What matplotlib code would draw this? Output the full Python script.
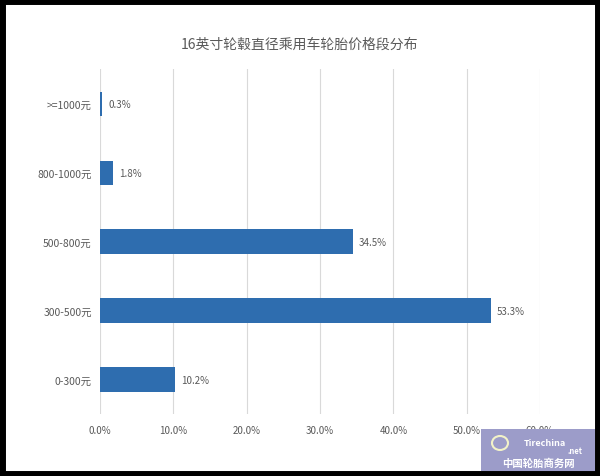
import matplotlib
matplotlib.use("Agg")
import matplotlib.pyplot as plt
from matplotlib.patches import Rectangle, Ellipse

plt.rcParams['font.family'] = ['Noto Sans CJK SC', 'DejaVu Sans']

title = "16英寸轮毂直径乘用车轮胎价格段分布"
categories = ["0-300元", "300-500元", "500-800元", "800-1000元", ">=1000元"]
values = [10.2, 53.3, 34.5, 1.8, 0.3]
xticks = [0, 10, 20, 30, 40, 50, 60]
xticklabels = ["0.0%", "10.0%", "20.0%", "30.0%", "40.0%", "50.0%", "60.0%"]

fig = plt.figure(figsize=(6, 4.77), dpi=100)
ax = fig.add_axes([0.1667, 0.130, 0.7333, 0.723])

gray = "#595959"
ax.barh(range(len(categories)), values, height=0.35, color="#2E6DAF", zorder=3)
for i, v in enumerate(values):
    ax.text(v + 0.8, i, f"{v:.1f}%", va="center", ha="left", fontsize=7, color=gray)

ax.set_xlim(0, 60)
ax.set_ylim(-0.5, len(categories) - 0.5)
ax.set_xticks(xticks)
ax.set_xticklabels(xticklabels, fontsize=7, color=gray)
ax.set_yticks(range(len(categories)))
ax.set_yticklabels(categories, fontsize=7.5, color=gray)
ax.tick_params(axis="both", length=0, pad=8)
ax.tick_params(axis="y", pad=6)
ax.grid(axis="x", color="#D9D9D9", linewidth=0.8, zorder=0)
for s in ax.spines.values():
    s.set_visible(False)

fig.text(0.5, 1 - 45 / 477, title, ha="center", va="center", fontsize=10, color=gray)

# black frame
fig.patches.append(Rectangle((0.004, 0.005), 0.992, 0.99, transform=fig.transFigure,
                             fill=False, edgecolor="black", linewidth=5, zorder=10))

# watermark
fig.patches.append(Rectangle((481 / 600, 1 - 472 / 477), 115 / 600, 42 / 477,
                             transform=fig.transFigure, facecolor="#9C9CC9",
                             edgecolor="none", zorder=5))
fig.patches.append(Ellipse((500 / 600, 1 - 444 / 477), 16 / 600, 14 / 477,
                           transform=fig.transFigure, facecolor="none",
                           edgecolor="#F2F2C8", linewidth=1.5, zorder=6))
fig.text(545 / 600, 1 - 444 / 477, "Tirechina", ha="center", va="center", fontsize=6.5,
         color="white", style="italic", weight="bold", zorder=6)
fig.text(575 / 600, 1 - 452 / 477, ".net", ha="center", va="center", fontsize=5.5,
         color="white", style="italic", weight="bold", zorder=6)
fig.text(538 / 600, 1 - 464 / 477, "中国轮胎商务网", ha="center", va="center", fontsize=7.5,
         color="white", weight="bold", zorder=6)

fig.savefig("out.png", dpi=100)
